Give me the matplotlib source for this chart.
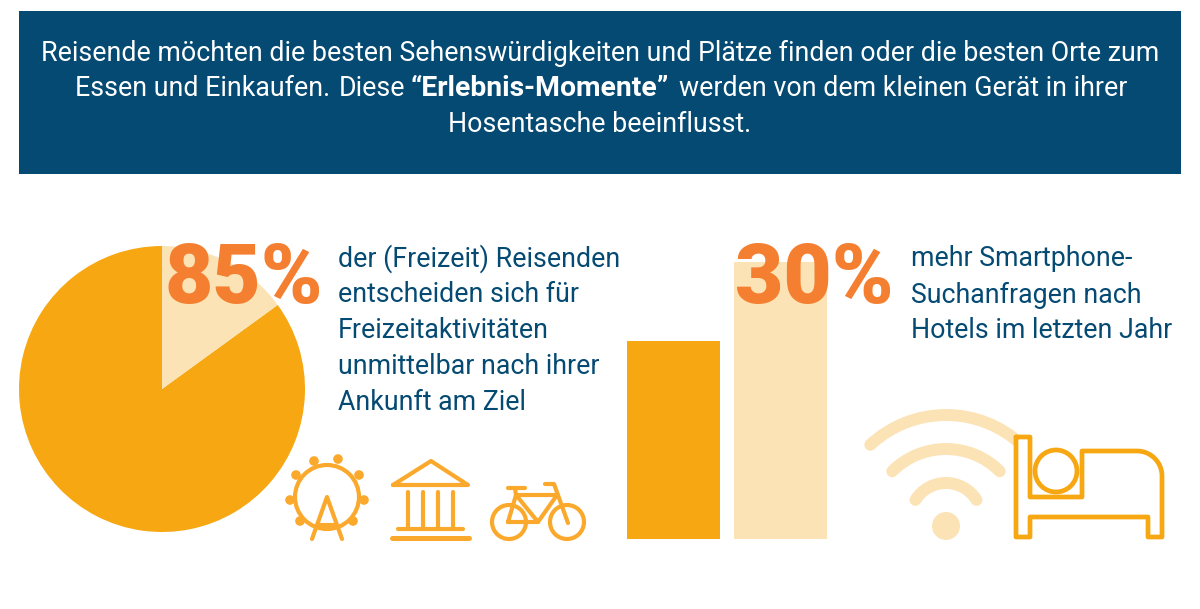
#!/usr/bin/env python3
import matplotlib
matplotlib.use("Agg")
import matplotlib.pyplot as plt
import numpy as np
from matplotlib.patches import Arc, Circle, Rectangle

W, H = 1200, 609
C_NAVY, C_AMBER, C_PALE, C_ORANGE = "#054a72", "#f7a712", "#fce3b6", "#f47f30"
C_ICON = "#fba92c"

pie_values = [85, 15]
bar_labels = ["vorher", "letztes Jahr"]
bar_values = [100, 140]
intro_first = "Reisende möchten die besten Sehenswürdigkeiten und Plätze finden oder die besten Orte zum"
intro_last = "Hosentasche beeinflusst."
# middle line has a bold run, so it goes in pieces
intro_middle = [(75, "Essen und Einkaufen.", "normal"),
                (339, "Diese", "normal"),
                (411, "“Erlebnis-Momente”", "bold"),
                (679, "werden von dem kleinen Gerät in ihrer", "normal")]
left_lines = ["der (Freizeit) Reisenden", "entscheiden sich für", "Freizeitaktivitäten",
              "unmittelbar nach ihrer", "Ankunft am Ziel"]
right_lines = ["mehr Smartphone-", "Suchanfragen nach", "Hotels im letzten Jahr"]

plt.rcParams["font.family"] = ["Roboto", "DejaVu Sans"]
FS = 19.3


def px_axes(fig, x0, y0, x1, y1):
    # y0/y1 measured from the top of the picture
    return fig.add_axes([x0 / W, 1 - y1 / H, (x1 - x0) / W, (y1 - y0) / H])


fig = plt.figure(figsize=(W / 100, H / 100), dpi=100, facecolor="white")

# pie
ax_pie = px_axes(fig, 19, 246, 305, 532)
ax_pie.pie(pie_values, colors=[C_AMBER, C_PALE], startangle=90, counterclock=True, radius=1,
           wedgeprops={"linewidth": 0})
ax_pie.set_xlim(-1, 1)
ax_pie.set_ylim(-1, 1)

# bars
ax_bar = px_axes(fig, 627, 240, 827, 539)
ax_bar.bar([0, 1], bar_values, width=0.865, color=[C_AMBER, C_PALE])
ax_bar.set_xlim(-0.4325, 1.4325)
ax_bar.set_ylim(0, 151)
ax_bar.axis("off")

# pixel canvas for banner, text and icons
ax = fig.add_axes([0, 0, 1, 1], facecolor="none")
ax.set_xlim(0, W)
ax.set_ylim(H, 0)
ax.axis("off")

ax.add_patch(Rectangle((19, 11), 1162, 163, color=C_NAVY, lw=0, zorder=0))
ax.text(600, 53, intro_first, color="white", fontsize=FS, ha="center", va="center")
for x, s, w in intro_middle:
    ax.text(x, 89, s, color="white", fontsize=FS + 1.1 if w == "bold" else FS, fontweight=w,
            ha="left", va="center")
ax.text(600, 125, intro_last, color="white", fontsize=FS, ha="center", va="center")

ax.text(164, 280, "85%", color=C_ORANGE, fontsize=60, fontweight="black", ha="left", va="center")
ax.text(735, 280, "30%", color=C_ORANGE, fontsize=60, fontweight="black", ha="left", va="center")
for i, s in enumerate(left_lines):
    ax.text(338, 259 + i * 36, s, color=C_NAVY, fontsize=FS, ha="left", va="center")
for i, s in enumerate(right_lines):
    ax.text(911, 259 + i * 36, s, color=C_NAVY, fontsize=FS, ha="left", va="center")


def stroke(xs, ys, color=C_ICON, lw=3.0, zorder=3):
    ax.plot(xs, ys, color=color, lw=lw, solid_capstyle="round", solid_joinstyle="round", zorder=zorder)


def ring(x, y, r, color=C_ICON, lw=3.0, zorder=3):
    ax.add_patch(Circle((x, y), r, fill=False, ec=color, lw=lw, zorder=zorder))


# ferris wheel
ring(327, 497, 32)
for x, y in [(314, 461), (338, 459), (359, 475), (364, 500), (353, 521), (300, 521), (290, 500), (296, 475)]:
    ax.add_patch(Circle((x, y), 4.8, fc=C_ICON, ec="none", zorder=3))
stroke([312, 327, 342], [539, 497, 539])
stroke([320, 335], [525, 525])

# museum
stroke([393, 431, 468, 393], [485, 461, 485, 485])
for x in [408, 423, 438, 453]:
    stroke([x, x], [492, 527])
stroke([398, 463], [529, 529])
stroke([392, 469], [538, 538], lw=3.6)

# bicycle
ring(509, 522, 17)
ring(567, 522, 17)
stroke([508, 516, 557, 538, 508], [522, 495, 495, 522, 522])
stroke([516, 538], [495, 522])
stroke([515, 516], [488, 495])
stroke([508, 525], [488, 488])
stroke([545, 554, 568], [484, 484, 523])

# wifi
wifi_x, wifi_y = 946, 526
for r, cy, theta in [(36, 519, 58), (76, 525, 45), (111, 526, 43)]:
    ax.add_patch(Arc((wifi_x, cy), 2 * r, 2 * r, theta1=270 - theta, theta2=270 + theta,
                     color=C_PALE, lw=8.6, capstyle="round", zorder=2))
ax.add_patch(Circle((wifi_x, wifi_y), 14, fc=C_PALE, ec="none", zorder=2))

# bed
curve = np.radians(np.linspace(-90, 0, 20))
bx = [1016, 1030, 1030, 1082, 1082, 1137] + list(1137 + 25 * np.cos(curve))
by = [437, 437, 497, 497, 451, 451] + list(476 + 25 * np.sin(curve))
bx += [1162, 1148, 1148, 1030, 1030, 1016, 1016]
by += [537, 537, 517, 517, 537, 537, 437]
ax.fill(bx, by, color="white", lw=0, zorder=3)
stroke(bx, by, color=C_AMBER, lw=3.4, zorder=4)
ring(1056, 471, 21, color=C_AMBER, lw=3.4, zorder=4)

fig.savefig("out.png", dpi=100)
